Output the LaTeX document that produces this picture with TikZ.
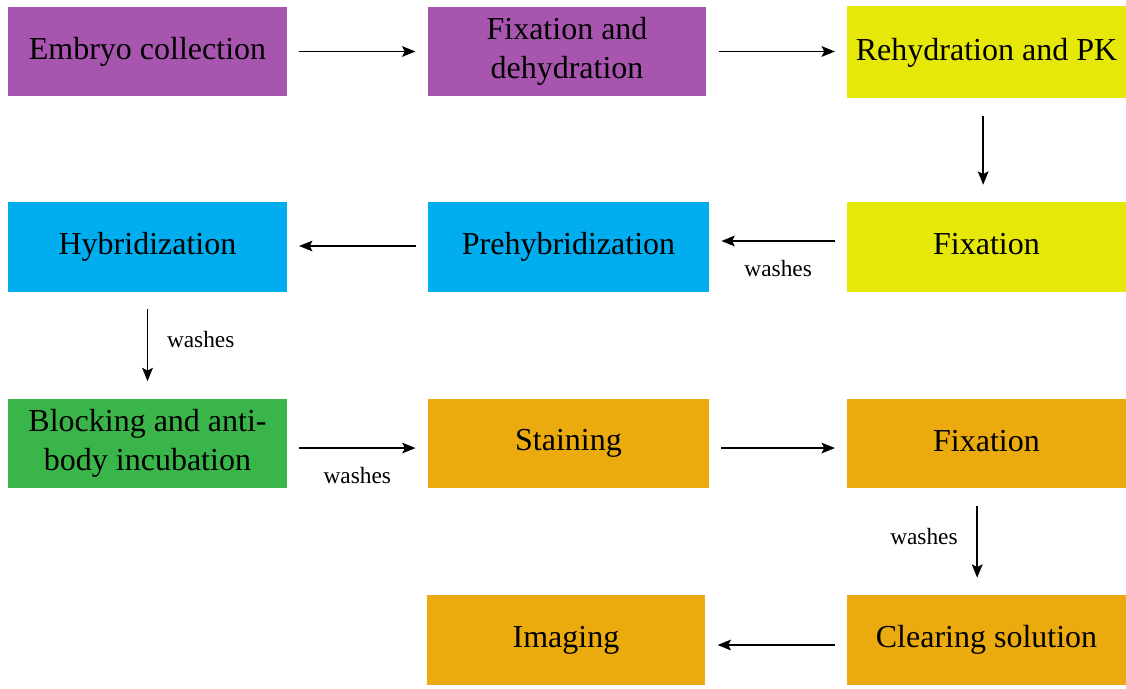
\documentclass[tikz,border=0pt]{standalone}
\usepackage{fontspec}
\setmainfont{Liberation Serif}
\usetikzlibrary{arrows.meta}

\definecolor{stepPurple}{HTML}{A855AF}
\definecolor{stepYellow}{HTML}{E6E80A}
\definecolor{stepBlue}{HTML}{00AEEF}
\definecolor{stepGreen}{HTML}{3AB54A}
\definecolor{stepOrange}{HTML}{EBAA0D}

\tikzset{
  stagebox/.style={rectangle, fill=#1, draw=none, minimum width=209pt, minimum height=67pt,
    align=center, font=\fontsize{24}{29}\selectfont, inner sep=0pt},
  flow/.style={-{Stealth[length=10pt,width=8pt,inset=2pt]}, line width=1.3pt, shorten <=9pt, shorten >=9pt},
  downflow/.style={flow, shorten <=13pt, shorten >=13pt},
  washlabel/.style={font=\fontsize{17.5}{21}\selectfont, inner sep=0pt}
}
\newcommand{\liftup}[2]{\raisebox{#1}{#2}}

\begin{document}
\begin{tikzpicture}[x=0.75pt, y=-0.75pt]
  \useasboundingbox (0,0) rectangle (1126,688);
  % row 1
  \node[stagebox=stepPurple] (embryo) at (147.5, 51.5) {Embryo collection};
  \node[stagebox=stepPurple] (fixdehyd) at (567, 51.5) {Fixation and\\dehydration};
  \node[stagebox=stepYellow, minimum height=69pt] (rehyd) at (986.5, 52.5) {\liftup{2pt}{Rehydration and PK}};
  % row 2
  \node[stagebox=stepBlue] (hybrid) at (147.5, 247) {\liftup{2.5pt}{Hybridization}};
  \node[stagebox=stepBlue, minimum width=211pt] (prehyb) at (568.5, 247) {\liftup{2.5pt}{Prehybridization}};
  \node[stagebox=stepYellow] (fixA) at (986.5, 247) {\liftup{4.5pt}{Fixation}};
  % row 3
  \node[stagebox=stepGreen] (block) at (147.5, 443.5) {Blocking and anti-\\body incubation};
  \node[stagebox=stepOrange, minimum width=211pt] (stain) at (568.5, 443.5) {\liftup{2pt}{Staining}};
  \node[stagebox=stepOrange] (fixB) at (986.5, 443.5) {\liftup{4.5pt}{Fixation}};
  % row 4
  \node[stagebox=stepOrange] (imaging) at (566, 640) {Imaging};
  \node[stagebox=stepOrange] (clearing) at (986.5, 640) {Clearing solution};

  \draw[flow] (embryo) -- (fixdehyd);
  \draw[flow] (fixdehyd) -- (rehyd.west |- fixdehyd);
  \draw[downflow] ([xshift=-2.5pt]rehyd.south) -- ([xshift=-2.5pt]fixA.north);
  \draw[flow] ([yshift=4.5pt]fixA.west) -- ([yshift=4.5pt]prehyb.east)
    node[washlabel, midway, below=13.5pt] (washA) {washes};
  \draw[flow] ([yshift=0.75pt]prehyb.west) -- ([yshift=0.75pt]hybrid.east);
  \draw[downflow] (hybrid) -- (block) node[washlabel, midway, right=14pt, yshift=4pt] (washB) {washes};
  \draw[flow] ([yshift=-3.4pt]block.east) -- ([yshift=-3.4pt]stain.west)
    node[washlabel, midway, below=13.5pt] (washC) {washes};
  \draw[flow] ([yshift=-3.4pt]stain.east) -- ([yshift=-3.4pt]fixB.west);
  \draw[downflow] ([xshift=-7pt]fixB.south) -- ([xshift=-7pt]clearing.north)
    node[washlabel, midway, left=14pt, yshift=4pt] (washD) {washes};
  \draw[flow] ([yshift=-3.75pt]clearing.west) -- ([yshift=-3.75pt]imaging.east);
\end{tikzpicture}
\end{document}
